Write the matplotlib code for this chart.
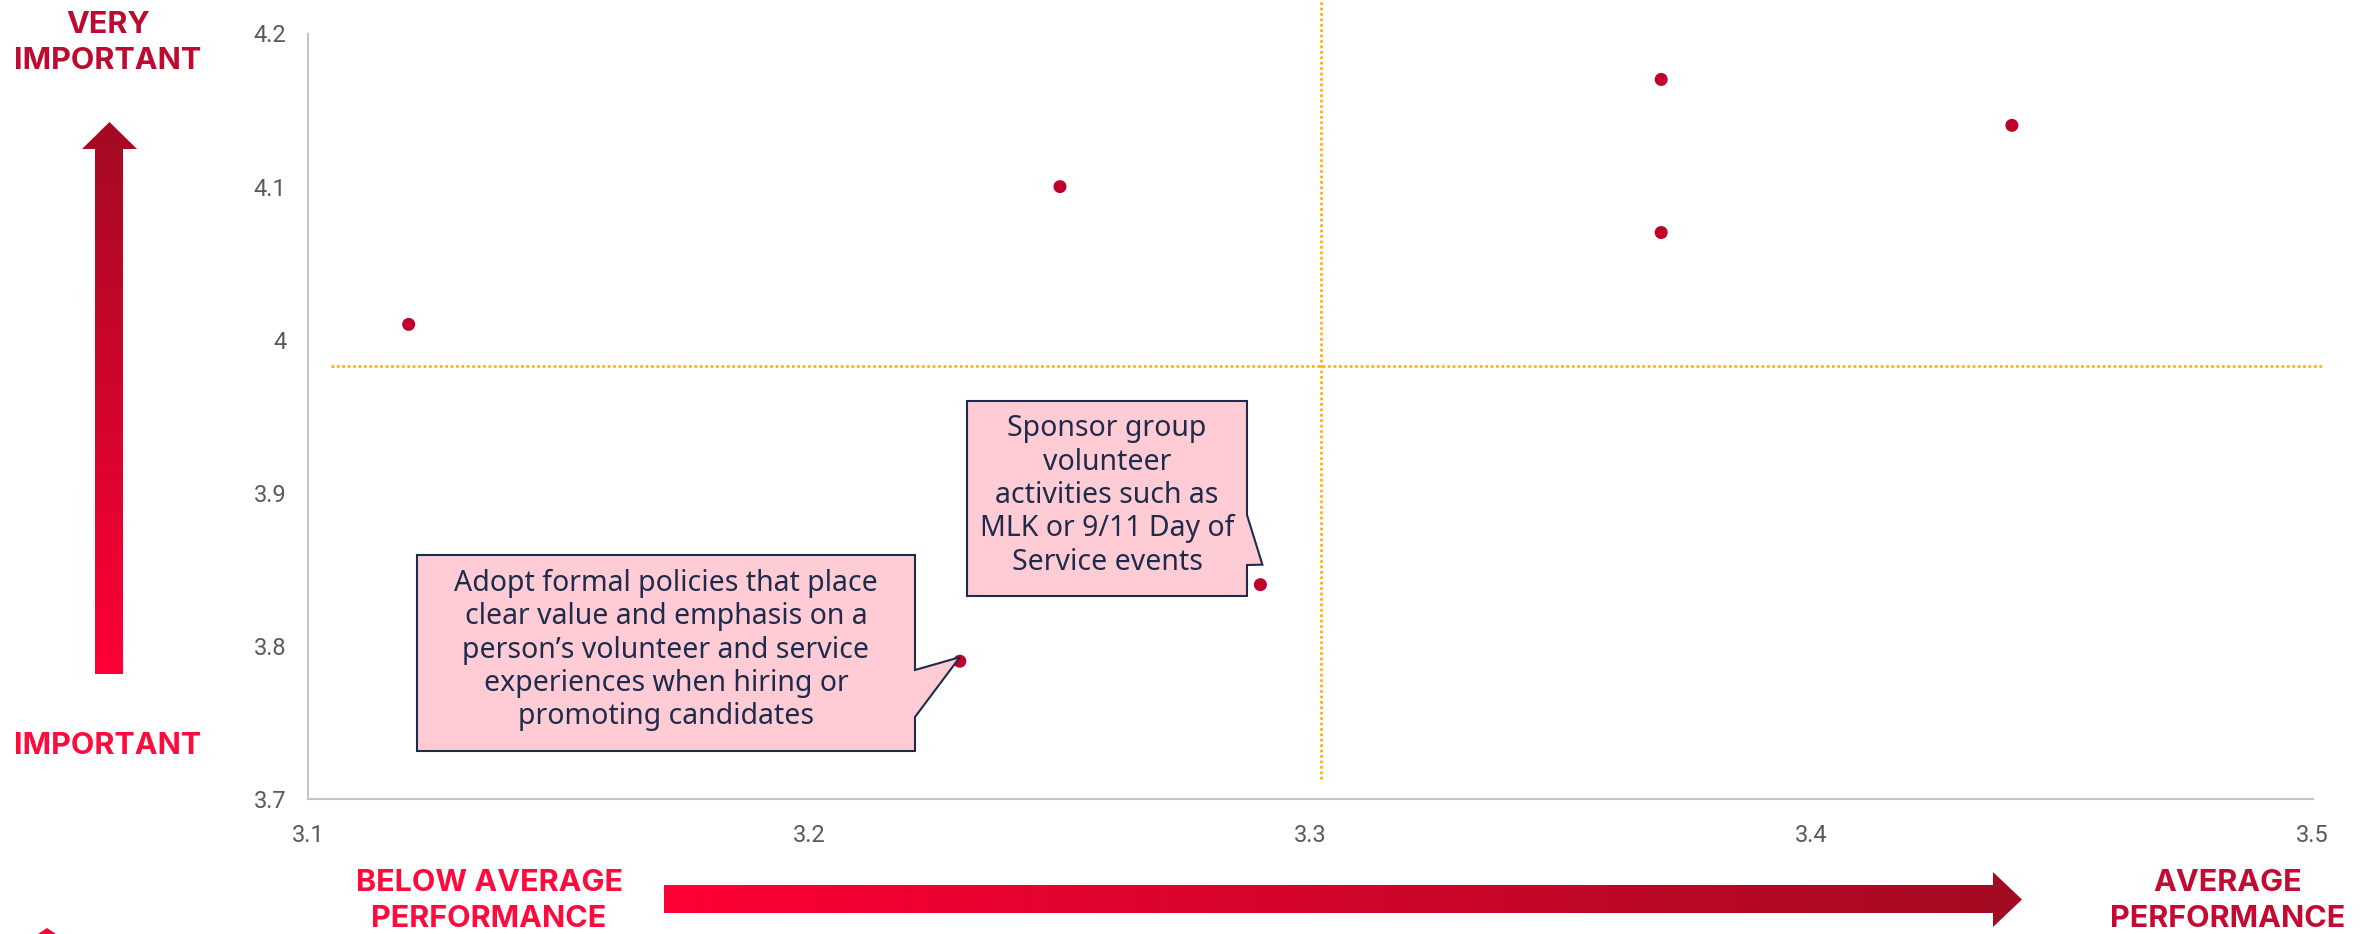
import numpy as np
import matplotlib
matplotlib.use("Agg")
import matplotlib.pyplot as plt
from matplotlib.patches import Polygon
from matplotlib.ticker import FixedLocator, FixedFormatter

# ---- data -------------------------------------------------------------
performance = [3.12, 3.25, 3.37, 3.37, 3.44, 3.29, 3.23]
importance = [4.01, 4.10, 4.17, 4.07, 4.14, 3.84, 3.79]

avg_performance = 3.302
avg_importance = 3.983

x_ticks = [3.1, 3.2, 3.3, 3.4, 3.5]
x_tick_labels = ["3.1", "3.2", "3.3", "3.4", "3.5"]
y_ticks = [3.7, 3.8, 3.9, 4.0, 4.1, 4.2]
y_tick_labels = ["3.7", "3.8", "3.9", "4", "4.1", "4.2"]

callout_sponsor = "Sponsor group\nvolunteer\nactivities such as\nMLK or 9/11 Day of\nService events"
callout_policies = ("Adopt formal policies that place\nclear value and emphasis on a\n"
                    "person\u2019s volunteer and service\nexperiences when hiring or\n"
                    "promoting candidates")

# ---- figure -----------------------------------------------------------
W, H = 2374, 934
DPI = 100
fig = plt.figure(figsize=(W / DPI, H / DPI), dpi=DPI)
fig.patch.set_facecolor("white")

ax_l, ax_r, ax_t, ax_b = 308.5, 2312.5, 33.5, 799.0
ax = fig.add_axes([ax_l / W, 1 - ax_b / H, (ax_r - ax_l) / W, (ax_b - ax_t) / H])

TICK_FONT = "Roboto"
LABEL_FONT = "Inter"
NOTE_FONT = "Noto Sans"

ax.set_xlim(3.1, 3.5)
ax.set_ylim(3.7, 4.2)
for side in ("top", "right"):
    ax.spines[side].set_visible(False)
for side in ("left", "bottom"):
    ax.spines[side].set_color("#C4C4C4")
    ax.spines[side].set_linewidth(1.5)
ax.xaxis.set_major_locator(FixedLocator(x_ticks))
ax.xaxis.set_major_formatter(FixedFormatter(x_tick_labels))
ax.yaxis.set_major_locator(FixedLocator(y_ticks))
ax.yaxis.set_major_formatter(FixedFormatter(y_tick_labels))
ax.tick_params(axis="both", length=0, labelsize=17, labelcolor="#595959")
ax.tick_params(axis="x", pad=18)
ax.tick_params(axis="y", pad=16)
for lab in ax.get_xticklabels() + ax.get_yticklabels():
    lab.set_fontfamily(TICK_FONT)

# average reference lines
line_style = dict(color="#FFB000", lw=1.95, ls=(0, (1, 1)),
                  dash_capstyle="butt", clip_on=False, zorder=2)
ax.plot([avg_performance, avg_performance], [3.713, 4.221], **line_style)
ax.plot([3.1045, 3.5019], [avg_importance, avg_importance], **line_style)

ax.scatter(performance, importance, s=88, color="#C0002B", edgecolors="none",
           zorder=4, clip_on=False)

# ---- overlay in figure pixels (y measured from top) -------------------
ov = fig.add_axes([0, 0, 1, 1], zorder=5)
ov.set_xlim(0, W)
ov.set_ylim(H, 0)
ov.axis("off")
ov.patch.set_alpha(0)


def to_px(x, y):
    dx, dy = ax.transData.transform((x, y))
    return dx, H - dy


BRIGHT = np.array([255, 0, 54]) / 255
DARK = np.array([163, 11, 35]) / 255


def gradient_arrow(pts, vertical):
    pts = np.asarray(pts, dtype=float)
    x0, x1 = pts[:, 0].min(), pts[:, 0].max()
    y0, y1 = pts[:, 1].min(), pts[:, 1].max()
    t = np.linspace(0, 1, 256)
    if vertical:
        cols = DARK[None, :] * (1 - t[:, None]) + BRIGHT[None, :] * t[:, None]
        img = cols[:, None, :]
    else:
        cols = BRIGHT[None, :] * (1 - t[:, None]) + DARK[None, :] * t[:, None]
        img = cols[None, :, :]
    poly = Polygon(pts, closed=True, facecolor="none", edgecolor="none")
    ov.add_patch(poly)
    im = ov.imshow(img, extent=(x0, x1, y1, y0), origin="upper",
                   aspect="auto", interpolation="bilinear", zorder=1)
    im.set_clip_path(poly)


gradient_arrow([(95, 674), (123, 674), (123, 149), (137, 149), (109.5, 122),
                (82, 149), (95, 149)], vertical=True)
gradient_arrow([(664, 885), (1993, 885), (1993, 872), (2022, 899.5),
                (1993, 927), (1993, 913), (664, 913)], vertical=False)
ov.add_patch(Polygon([(38, 934), (47, 928), (56, 934)], closed=True,
                     facecolor="#FF0036", edgecolor="none"))
ov.set_xlim(0, W)
ov.set_ylim(H, 0)

label_kw = dict(fontfamily=LABEL_FONT, fontweight="bold", fontsize=22,
                ha="center", va="center", linespacing=1.38)
ov.text(108, 43, "VERY\nIMPORTANT", color="#BC0A30", **label_kw)
ov.text(108, 746, "IMPORTANT", color="#FF0A3C", **label_kw)
ov.text(489, 901, "BELOW AVERAGE\nPERFORMANCE", color="#FF0A3C", **label_kw)
ov.text(2228, 901, "AVERAGE\nPERFORMANCE", color="#C20A32", **label_kw)

# ---- callouts ---------------------------------------------------------
BOX_FILL = "#FFCCD6"
BOX_EDGE = "#1E2B4A"


def callout(left, top, right, bottom, tail_a, tail_b, tip, text):
    # outline runs clockwise from the top-left corner; tail on the right edge
    pts = [(left, top), (right, top), (right, tail_a), tip, (right, tail_b),
           (right, bottom), (left, bottom)]
    ov.add_patch(Polygon(pts, closed=True, facecolor=BOX_FILL,
                         edgecolor=BOX_EDGE, linewidth=1.5, zorder=3,
                         joinstyle="miter"))
    ov.text((left + right) / 2, (top + bottom) / 2 - 3, text, ha="center",
            va="center", fontsize=20.5, fontfamily=NOTE_FONT, color=BOX_EDGE,
            linespacing=1.2, zorder=4)


sx, sy = to_px(performance[5], importance[5])
callout(967, 401, 1247, 596, 515, 565, (sx + 2, sy - 20), callout_sponsor)
px, py = to_px(performance[6], importance[6])
callout(417, 555, 915, 751, 670, 717, (px, py - 4), callout_policies)

fig.savefig("out.png", dpi=DPI, facecolor="white")
